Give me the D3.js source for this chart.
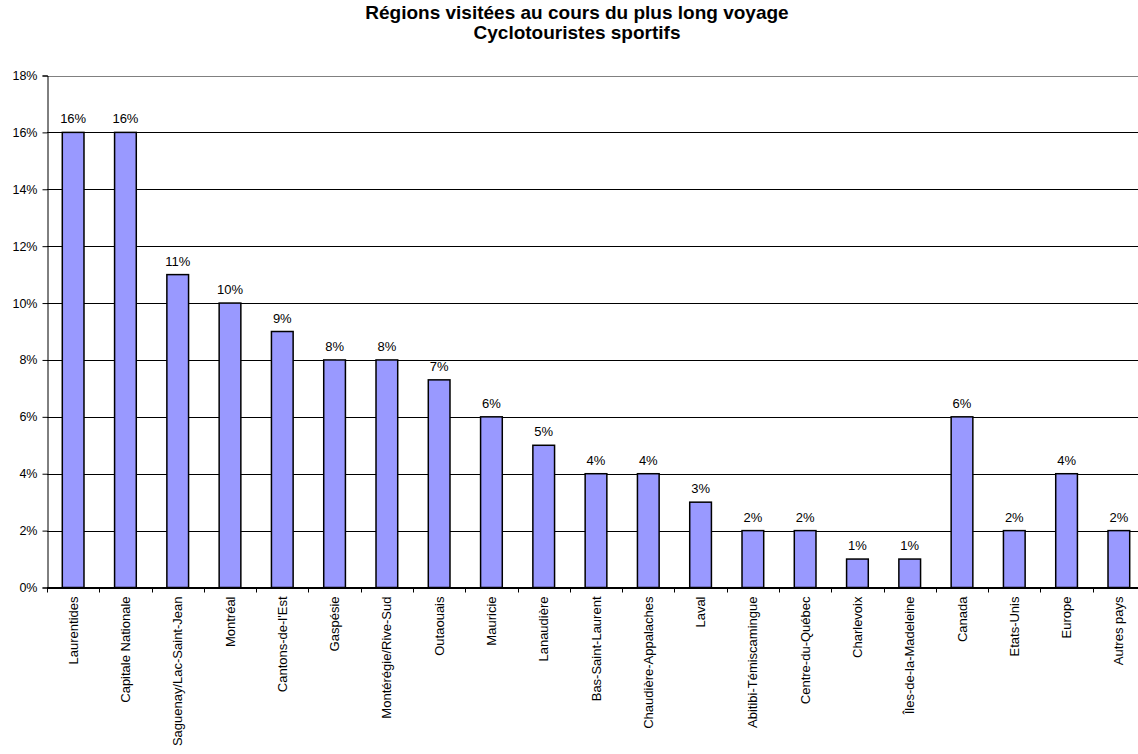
<!DOCTYPE html>
<html>
 <head>
  <meta charset="utf-8">
  <title>Régions visitées</title>
  <script src="https://cdnjs.cloudflare.com/ajax/libs/d3/7.8.3/d3.min.js"></script>
  <style>
   body { margin: 0; background: #fff; }
   text { font-family: "Liberation Sans", Arial, sans-serif; fill: #000; }
  </style>
 </head>
 <body>
  <script>
   // data
   const regions = ["Laurentides", "Capitale Nationale", "Saguenay/Lac-Saint-Jean", "Montréal",
                    "Cantons-de-l'Est", "Gaspésie", "Montérégie/Rive-Sud", "Outaouais", "Mauricie",
                    "Lanaudière", "Bas-Saint-Laurent", "Chaudière-Appalaches", "Laval",
                    "Abitibi-Témiscamingue", "Centre-du-Québec", "Charlevoix", "Îles-de-la-Madeleine",
                    "Canada", "Etats-Unis", "Europe", "Autres pays"];
   const pct = [16, 16, 11, 10, 9, 8, 8, 7.3, 6, 5, 4, 4, 3, 2, 2, 1, 1, 6, 2, 4, 2];
   const yTicks = [0, 2, 4, 6, 8, 10, 12, 14, 16, 18];
   const titleLines = ["Régions visitées au cours du plus long voyage", "Cyclotouristes sportifs"];

   const w = 1138, h = 754;
   const padL = 47, padR = 1145, padT = 75.5, padB = 587.5;

   const svg = d3.select("body").append("svg")
                 .attr("width", w)
                 .attr("height", h);

   svg.selectAll("text.title")
      .data(titleLines)
      .enter()
      .append("text")
      .attr("class", "title")
      .attr("x", 577)
      .attr("y", (d, i) => 19 + i * 20)
      .attr("text-anchor", "middle")
      .style("font-weight", "bold")
      .style("font-size", "19px")
      .text(d => d);

   const data = regions.map((r, i) => ({ region: r, value: pct[i] }));

   const xScale = d3.scaleBand()
                    .domain(regions)
                    .range([padL, padR])
                    .paddingInner(0.585)
                    .paddingOuter(0.2925);
   const yScale = d3.scaleLinear()
                    .domain([0, 18])
                    .range([padB, padT]);

   // gridlines
   svg.append("g")
      .selectAll("line")
      .data(yTicks)
      .enter()
      .append("line")
      .attr("x1", padL)
      .attr("x2", padR)
      .attr("y1", d => Math.round(yScale(d)) + 0.5)
      .attr("y2", d => Math.round(yScale(d)) + 0.5)
      .attr("stroke", d => d == 18 ? "#808080" : "#000")
      .attr("stroke-width", 1);

   // bars
   svg.append("g")
      .selectAll("rect")
      .data(data)
      .enter()
      .append("rect")
      .attr("x", d => xScale(d.region))
      .attr("y", d => yScale(d.value))
      .attr("width", xScale.bandwidth())
      .attr("height", d => padB - yScale(d.value))
      .attr("fill", "#9999ff")
      .attr("stroke", "#000")
      .attr("stroke-width", 1.5);

   // value labels
   svg.append("g")
      .selectAll("text")
      .data(data)
      .enter()
      .append("text")
      .attr("x", d => xScale(d.region) + xScale.bandwidth() / 2)
      .attr("y", d => yScale(d.value) - 9)
      .attr("text-anchor", "middle")
      .style("font-size", "13px")
      .text(d => Math.round(d.value) + "%");

   // y axis
   const yAxis = d3.axisLeft(yScale)
                   .tickValues(yTicks)
                   .tickSize(5)
                   .tickPadding(5)
                   .tickFormat(d => d + "%");
   svg.append("g")
      .attr("transform", "translate(" + (padL + 0.5) + ",0)")
      .call(yAxis)
      .call(g => g.selectAll("line").attr("stroke", "#000"))
      .call(g => g.select(".domain").attr("stroke", "#000"))
      .call(g => g.selectAll("text").style("font-size", "12.5px").style("font-family", "Liberation Sans, Arial"));

   // x axis: ticks on band edges, labels rotated
   const xg = svg.append("g");
   xg.append("line")
     .attr("x1", padL).attr("x2", padR)
     .attr("y1", padB).attr("y2", padB)
     .attr("stroke", "#000");
   xg.selectAll("line.tick")
     .data(regions)
     .enter()
     .append("line")
     .attr("class", "tick")
     .attr("x1", d => Math.round(xScale(d) - xScale.step() * 0.2925) + 0.5)
     .attr("x2", d => Math.round(xScale(d) - xScale.step() * 0.2925) + 0.5)
     .attr("y1", padB)
     .attr("y2", padB + 5)
     .attr("stroke", "#000");
   xg.selectAll("text")
     .data(regions)
     .enter()
     .append("text")
     .attr("transform", d => "translate(" + (xScale(d) + xScale.bandwidth() / 2) + "," + (padB + 9) + ") rotate(-90)")
     .attr("dy", "0.35em")
     .attr("text-anchor", "end")
     .style("font-size", "13px")
     .text(d => d);
  </script>
 </body>
</html>
